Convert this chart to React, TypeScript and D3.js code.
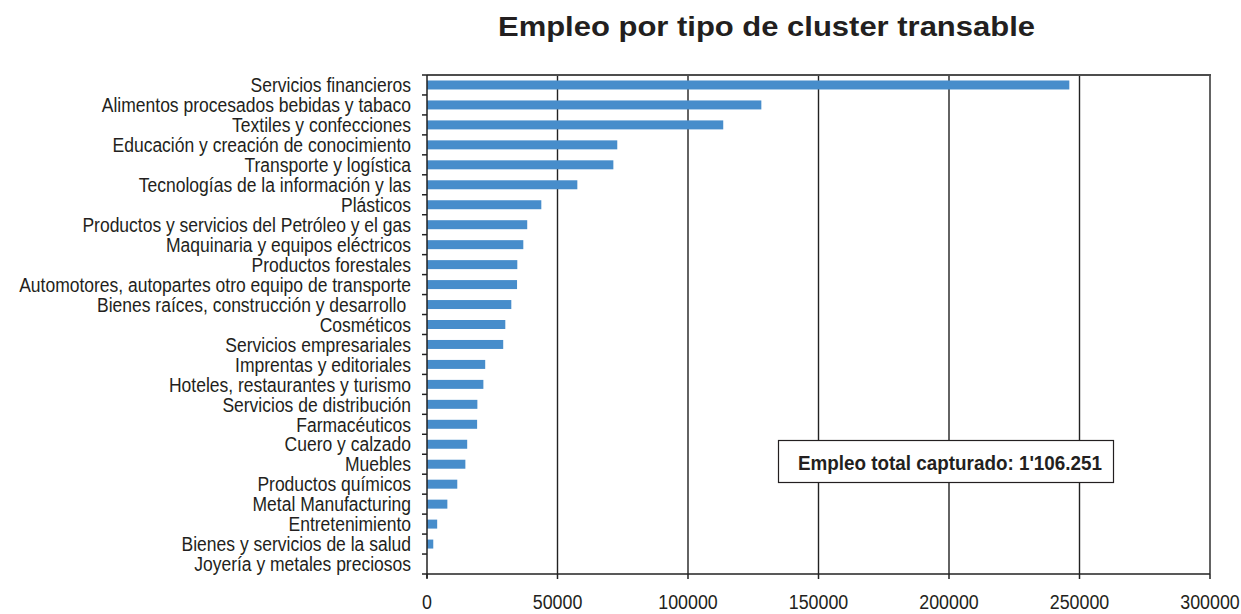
import React, { useEffect, useRef } from "react";
import * as d3 from "d3";

// ----- data
const categories = [
  "Servicios financieros",
  "Alimentos procesados bebidas y tabaco",
  "Textiles y confecciones",
  "Educación y creación de conocimiento",
  "Transporte y logística",
  "Tecnologías de la información y las",
  "Plásticos",
  "Productos y servicios del Petróleo y el gas",
  "Maquinaria y equipos eléctricos",
  "Productos forestales",
  "Automotores, autopartes otro equipo de transporte",
  "Bienes raíces, construcción y desarrollo ",
  "Cosméticos",
  "Servicios empresariales",
  "Imprentas y editoriales",
  "Hoteles, restaurantes y turismo",
  "Servicios de distribución",
  "Farmacéuticos",
  "Cuero y calzado",
  "Muebles",
  "Productos químicos",
  "Metal Manufacturing",
  "Entretenimiento",
  "Bienes y servicios de la salud",
  "Joyería y metales preciosos"
];

const empleo = [
  246100, 128100, 113500, 72900, 71400, 57600, 43800, 38400, 36900, 34600,
  34500, 32300, 30000, 29200, 22300, 21600, 19300, 19200, 15400, 14700,
  11600, 7800, 3900, 2400, 0
];

const xTicks = [0, 50000, 100000, 150000, 200000, 250000, 300000];

const title = "Empleo por tipo de cluster transable";
const note = "Empleo total capturado: 1'106.251";

const Chart = () => {
  const svgRef = useRef(null);

  useEffect(() => {
    // ----- margin convention
    const W = 1241;
    const H = 614;
    const margin = { top: 75, right: 31, bottom: 40, left: 427 };

    const svg = d3.select(svgRef.current);
    svg.selectAll("*").remove();

    // no narrow font installed -> squeeze Liberation Sans horizontally
    const font = "'Liberation Sans', Arial, sans-serif";
    const ink = "#231f20";

    const x = d3
      .scaleLinear()
      .domain([0, 300000])
      .range([margin.left, W - margin.right]);

    const y = d3
      .scaleBand()
      .domain(categories)
      .range([margin.top, H - margin.bottom])
      .paddingInner(0.55)
      .paddingOuter(0.275);

    // band edges for the left ticks
    const step = y.step();
    const edges = d3.range(categories.length + 1).map(i => margin.top + i * step);

    // title
    svg
      .append("text")
      .attr("x", 766.5)
      .attr("y", 36)
      .attr("text-anchor", "middle")
      .attr("font-family", font)
      .attr("font-weight", "bold")
      .attr("font-size", 28)
      .attr("textLength", 537)
      .attr("lengthAdjust", "spacingAndGlyphs")
      .attr("fill", ink)
      .text(title);

    // vertical gridlines
    svg
      .append("g")
      .selectAll("line")
      .data(xTicks.slice(1))
      .join("line")
      .attr("x1", d => x(d))
      .attr("x2", d => x(d))
      .attr("y1", margin.top)
      .attr("y2", H - margin.bottom)
      .attr("stroke", "#222")
      .attr("stroke-width", 1.4);

    // bars
    svg
      .append("g")
      .selectAll("rect")
      .data(categories)
      .join("rect")
      .attr("x", x(0))
      .attr("y", d => y(d))
      .attr("width", (d, i) => x(empleo[i]) - x(0))
      .attr("height", y.bandwidth())
      .attr("fill", "#478dcb");

    // top border
    svg
      .append("line")
      .attr("x1", x(0))
      .attr("x2", x(300000) + 1)
      .attr("y1", margin.top)
      .attr("y2", margin.top)
      .attr("stroke", "#4d4d4d")
      .attr("stroke-width", 2);

    // y axis line + ticks
    const yAxis = svg.append("g");
    yAxis
      .append("line")
      .attr("x1", x(0))
      .attr("x2", x(0))
      .attr("y1", margin.top)
      .attr("y2", H - margin.bottom + 4)
      .attr("stroke", "#222")
      .attr("stroke-width", 1.5);
    yAxis
      .selectAll("line.tick")
      .data(edges)
      .join("line")
      .attr("class", "tick")
      .attr("x1", x(0) - 5)
      .attr("x2", x(0))
      .attr("y1", d => d)
      .attr("y2", d => d)
      .attr("stroke", "#222")
      .attr("stroke-width", 1.5);
    yAxis
      .selectAll("text")
      .data(categories)
      .join("text")
      .attr(
        "transform",
        d => `translate(411,${y(d) + y.bandwidth() / 2}) scale(0.875,1)`
      )
      .attr("dy", "0.36em")
      .attr("text-anchor", "end")
      .attr("font-family", font)
      .attr("font-size", 20)
      .attr("fill", ink)
      .style("white-space", "pre")
      .text(d => d);

    // x axis line + ticks
    const xAxis = svg.append("g");
    xAxis
      .append("line")
      .attr("x1", x(0))
      .attr("x2", x(300000))
      .attr("y1", H - margin.bottom)
      .attr("y2", H - margin.bottom)
      .attr("stroke", "#222")
      .attr("stroke-width", 1.5);
    xAxis
      .selectAll("line.tick")
      .data(xTicks)
      .join("line")
      .attr("class", "tick")
      .attr("x1", d => x(d))
      .attr("x2", d => x(d))
      .attr("y1", H - margin.bottom)
      .attr("y2", H - margin.bottom + 5)
      .attr("stroke", "#222")
      .attr("stroke-width", 1.5);
    xAxis
      .selectAll("text")
      .data(xTicks)
      .join("text")
      .attr("transform", d => `translate(${x(d)},609) scale(0.85,1)`)
      .attr("text-anchor", "middle")
      .attr("font-family", font)
      .attr("font-size", 21)
      .attr("fill", ink)
      .text(d => d);

    // total box
    const box = svg.append("g");
    box
      .append("rect")
      .attr("x", 778.5)
      .attr("y", 440.5)
      .attr("width", 335)
      .attr("height", 42)
      .attr("fill", "#fff")
      .attr("stroke", ink)
      .attr("stroke-width", 1.2);
    box
      .append("text")
      .attr("x", 950)
      .attr("y", 462)
      .attr("dy", "0.36em")
      .attr("text-anchor", "middle")
      .attr("font-family", font)
      .attr("font-weight", "bold")
      .attr("font-size", 21)
      .attr("textLength", 304)
      .attr("lengthAdjust", "spacingAndGlyphs")
      .attr("fill", ink)
      .text(note);
  }, []);

  return (
    <svg
      ref={svgRef}
      width={1241}
      height={614}
      style={{ position: "absolute", left: 0, top: 0, background: "#fff" }}
    />
  );
};

export default function App() {
  return <Chart />;
}
